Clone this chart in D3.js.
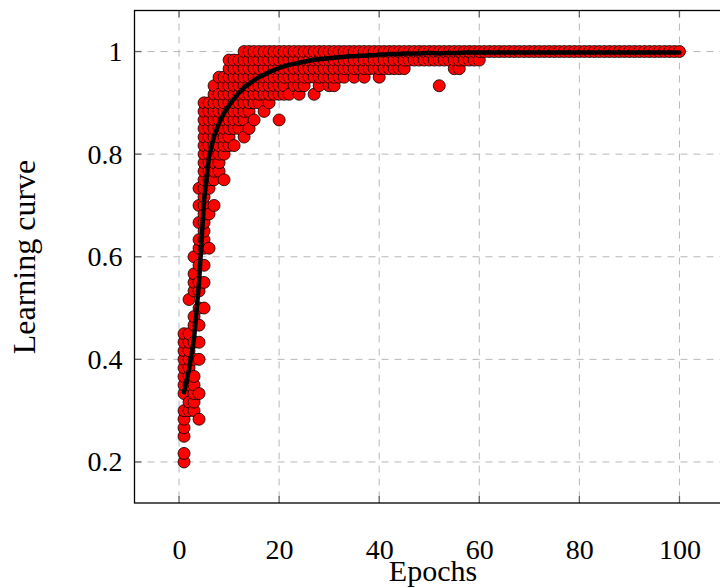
<!DOCTYPE html>
<html>
<head>
<meta charset="utf-8">
<script src="https://cdn.jsdelivr.net/npm/d3@7"></script>
<style>
  body { margin: 0; background: #fff; }
  text { font-family: "Liberation Serif", "DejaVu Serif", serif; fill: #000; }
</style>
</head>
<body>
<div id="chart"></div>
<script>
// accuracy per run = correct answers out of testSize, one list per epoch (epoch 1 first)
var testSize = 60;
var hits = [
  [12,13,15,16,17,18,20,21,22,23,24,25,26,27],
  [18,19,21,22,23,24,25,26,27,31],
  [18,19,20,21,22,24,26,28,29,32,33,34,36],
  [17,20,24,26,28,30,32,33,35,37,38,40,42,44],
  [30,33,35,37,38,39,40,41,42,43,44,45,46,47,48,49,50,51,52,53,54],
  [37,41,44,45,46,47,48,49,50,51,52,53,54],
  [42,45,46,47,48,49,50,51,52,53,54,55,56],
  [46,47,48,49,50,51,52,53,54,55,57],
  [45,48,49,50,51,52,53,54,55,56,57],
  [49,50,51,52,53,54,55,56,57,58,59],
  [49,51,52,53,54,55,56,57,58,59],
  [51,52,53,54,55,56,57,58,59],
  [50,52,53,54,55,56,57,58,59,60],
  [51,53,54,55,56,57,58,59,60],
  [52,54,55,56,57,58,59,60],
  [54,55,56,57,58,59,60],
  [53,55,56,57,58,59,60],
  [54,55,56,57,58,59,60],
  [55,56,57,58,59,60],
  [52,55,56,57,58,59,60],
  [55,56,57,58,59,60],
  [55,57,58,59,60],
  [56,57,58,59,60],
  [55,56,57,58,59,60],
  [56,57,58,59,60],
  [57,58,59,60],
  [55,57,58,59,60],
  [56,57,58,59,60],
  [57,58,59,60],
  [56,57,58,59,60],
  [56,57,58,59,60],
  [57,58,59,60],
  [57,58,59,60],
  [58,59,60],
  [57,58,59,60],
  [58,59,60],
  [57,58,59,60],
  [58,59,60],
  [58,59,60],
  [57,58,59,60],
  [58,59,60],[58,59,60],[58,59,60],[58,59,60],[58,59,60],
  [59,60],[59,60],[59,60],[59,60],[59,60],[59,60],
  [56,59,60],
  [59,60],[59,60],
  [58,59,60],[58,59,60],
  [59,60],[59,60],[59,60],[59,60],
  [60],[60],[60],[60],[60],[60],[60],[60],[60],[60],
  [60],[60],[60],[60],[60],[60],[60],[60],[60],[60],
  [60],[60],[60],[60],[60],[60],[60],[60],[60],[60],
  [60],[60],[60],[60],[60],[60],[60],[60],[60],[60]
];

// mean learning curve per epoch
var meanCurve = [
  0.336,0.38,0.44,0.55,0.71,0.795,0.835,0.86,0.88,0.895,
  0.908,0.92,0.93,0.937,0.944,0.95,0.955,0.96,0.964,0.968,
  0.971,0.974,0.976,0.978,0.98,0.982,0.984,0.985,0.986,0.987,
  0.988,0.989,0.99,0.991,0.991,0.992,0.992,0.993,0.993,0.994,
  0.994,0.995,0.995,0.995,0.996,0.996,0.996,0.996,0.997,0.997,
  0.997,0.996,0.997,0.997,0.997,0.997,0.998,0.998,0.998,0.998,
  0.998,0.998,0.998,0.998,0.998,0.998,0.998,0.998,0.998,0.998,
  0.998,0.998,0.998,0.998,0.998,0.998,0.998,0.998,0.998,0.998,
  0.998,0.998,0.998,0.998,0.998,0.998,0.998,0.998,0.998,0.998,
  0.998,0.998,0.998,0.998,0.998,0.998,0.998,0.998,0.998,0.998
];

var xTicks = [0, 20, 40, 60, 80, 100];
var yTicks = [0.2, 0.4, 0.6, 0.8, 1];

var svg = d3.select("#chart").append("svg")
  .attr("width", 720)
  .attr("height", 588);

var pLeft = 134.5, pTop = 10.5, pRight = 729, pBottom = 503;

var x = d3.scaleLinear().domain([-8.9, 109.9]).range([pLeft, pRight]);
var y = d3.scaleLinear().domain([0.12, 1.08]).range([pBottom, pTop]);

svg.append("clipPath").attr("id", "plot")
  .append("rect")
  .attr("x", pLeft).attr("y", pTop)
  .attr("width", pRight - pLeft).attr("height", pBottom - pTop);

// grid
var grid = svg.append("g");
grid.selectAll(".gx").data(xTicks).enter().append("line")
  .attr("x1", function(d) { return x(d); })
  .attr("x2", function(d) { return x(d); })
  .attr("y1", pTop).attr("y2", pBottom);
grid.selectAll(".gy").data(yTicks).enter().append("line")
  .attr("x1", pLeft).attr("x2", pRight)
  .attr("y1", function(d) { return y(d); })
  .attr("y2", function(d) { return y(d); });
grid.selectAll("line")
  .style("stroke", "#b8b8b8")
  .style("stroke-width", 1)
  .style("stroke-dasharray", "7,6");

// tick marks on all four sides, pointing inward
var ticks = svg.append("g").style("stroke", "#666").style("stroke-width", 1.3);
xTicks.forEach(function(d) {
  ticks.append("line").attr("x1", x(d)).attr("x2", x(d)).attr("y1", pBottom).attr("y2", pBottom - 7);
  ticks.append("line").attr("x1", x(d)).attr("x2", x(d)).attr("y1", pTop).attr("y2", pTop + 7);
});
yTicks.forEach(function(d) {
  ticks.append("line").attr("x1", pLeft).attr("x2", pLeft + 7).attr("y1", y(d)).attr("y2", y(d));
  ticks.append("line").attr("x1", pRight).attr("x2", pRight - 7).attr("y1", y(d)).attr("y2", y(d));
});

// scatter of every run
var points = [];
hits.forEach(function(list, i) {
  list.forEach(function(h) { points.push({epoch: i + 1, value: h / testSize}); });
});

var plot = svg.append("g").attr("clip-path", "url(#plot)");

plot.selectAll("circle").data(points).enter()
  .append("circle")
  .attr("cx", function(d) { return x(d.epoch); })
  .attr("cy", function(d) { return y(d.value); })
  .attr("r", 6)
  .style("fill", "#ff0000")
  .style("stroke", "#000")
  .style("stroke-width", 0.8);

var line = d3.line()
  .x(function(d, i) { return x(i + 1); })
  .y(function(d) { return y(d); });

plot.append("path")
  .datum(meanCurve)
  .attr("d", line)
  .style("fill", "none")
  .style("stroke", "#000")
  .style("stroke-width", 4.5)
  .style("stroke-linejoin", "round")
  .style("stroke-linecap", "round");

// frame
svg.append("rect")
  .attr("x", pLeft).attr("y", pTop)
  .attr("width", pRight - pLeft).attr("height", pBottom - pTop)
  .style("fill", "none")
  .style("stroke", "#000")
  .style("stroke-width", 1.3);

// tick labels
svg.append("g")
  .attr("transform", "translate(0," + pBottom + ")")
  .call(d3.axisBottom(x).tickValues(xTicks).tickSize(0).tickFormat(d3.format("d")))
  .call(function(g) { g.select(".domain").remove(); })
  .selectAll("text")
  .attr("y", 56).attr("dy", null)
  .style("font-size", "28px")
  .style("font-family", "'Liberation Serif', serif");

svg.append("g")
  .attr("transform", "translate(" + pLeft + ",0)")
  .call(d3.axisLeft(y).tickValues(yTicks).tickSize(0).tickPadding(12).tickFormat(d3.format("")))
  .call(function(g) { g.select(".domain").remove(); })
  .selectAll("text")
  .style("font-size", "28px")
  .style("font-family", "'Liberation Serif', serif");

// axis titles
svg.append("text")
  .attr("x", 433).attr("y", 581)
  .attr("text-anchor", "middle")
  .style("font-size", "30px")
  .text("Epochs");

svg.append("text")
  .attr("transform", "translate(35,257) rotate(-90)")
  .attr("text-anchor", "middle")
  .style("font-size", "32px")
  .text("Learning curve");
</script>
</body>
</html>
